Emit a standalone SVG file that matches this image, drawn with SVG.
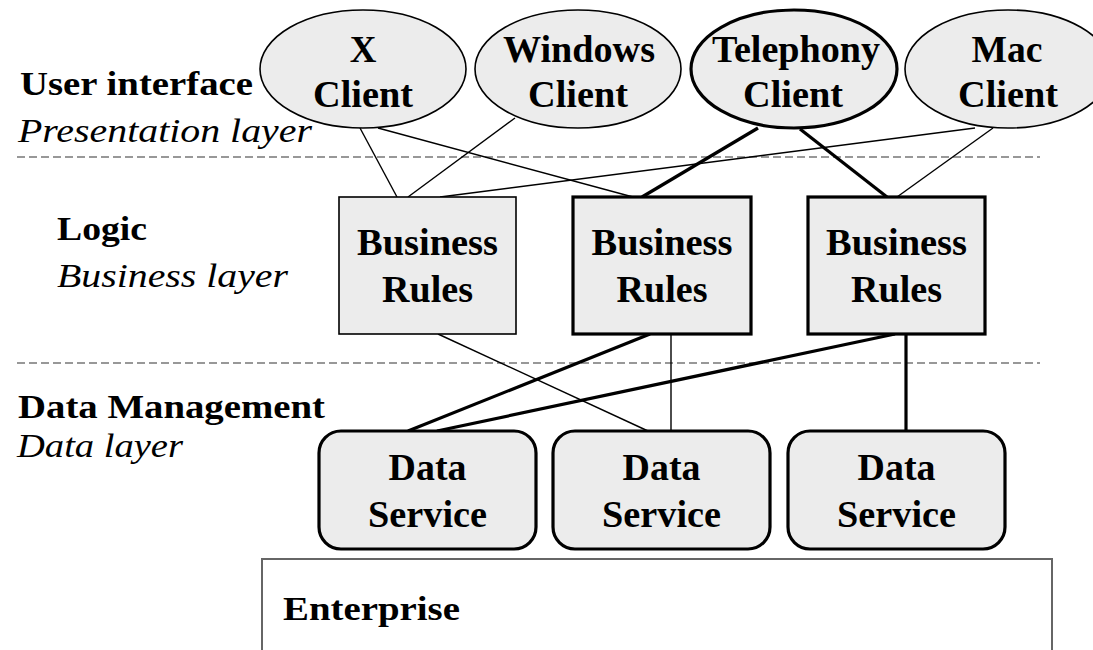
<svg xmlns="http://www.w3.org/2000/svg" width="1093" height="650" viewBox="0 0 1093 650">
  <style>
    .node { fill: #ececec; stroke: #000; stroke-width: 1.6; }
    .bold-node { fill: #ececec; stroke: #000; stroke-width: 3.2; }
    .thin { stroke: #000; stroke-width: 1.4; fill: none; }
    .thick { stroke: #000; stroke-width: 3.2; fill: none; }
    .divider { stroke: #777; stroke-width: 1.6; stroke-dasharray: 8 4; fill: none; }
  </style>
  <rect width="1093" height="650" fill="#fff"/>

  <!-- layer dividers -->
  <g id="dividers">
    <line class="divider" x1="17" y1="157" x2="1040" y2="157"/>
    <line class="divider" x1="17" y1="363" x2="1040" y2="363"/>
  </g>

  <!-- layer labels -->
  <g id="layer-labels">
    <text font-family="Liberation Serif" font-size="33" font-weight="bold" x="20" y="95" textLength="233" lengthAdjust="spacingAndGlyphs">User interface</text>
    <text font-family="Liberation Serif" font-size="33" font-style="italic" x="18" y="142" textLength="294" lengthAdjust="spacingAndGlyphs">Presentation layer</text>
    <text font-family="Liberation Serif" font-size="33" font-weight="bold" x="57" y="240" textLength="90" lengthAdjust="spacingAndGlyphs">Logic</text>
    <text font-family="Liberation Serif" font-size="33" font-style="italic" x="57" y="287" textLength="231" lengthAdjust="spacingAndGlyphs">Business layer</text>
    <text font-family="Liberation Serif" font-size="33" font-weight="bold" x="18" y="418" textLength="307" lengthAdjust="spacingAndGlyphs">Data Management</text>
    <text font-family="Liberation Serif" font-size="33" font-style="italic" x="17" y="457" textLength="166" lengthAdjust="spacingAndGlyphs">Data layer</text>
  </g>

  <!-- enterprise base -->
  <g id="enterprise">
    <rect x="262" y="559" width="790" height="110" fill="#fff" stroke="#666" stroke-width="2"/>
    <text font-family="Liberation Serif" font-size="33" font-weight="bold" x="283" y="620" textLength="177" lengthAdjust="spacingAndGlyphs">Enterprise</text>
  </g>

  <!-- connectors -->
  <g id="connectors">
    <line class="thin" x1="360" y1="128" x2="397" y2="197"/>
    <line class="thin" x1="515" y1="118" x2="408" y2="197"/>
    <line class="thin" x1="378" y1="128" x2="633" y2="197"/>
    <line class="thin" x1="975" y1="128" x2="440" y2="197"/>
    <line class="thin" x1="993" y1="128" x2="897" y2="197"/>
    <line class="thick" x1="758" y1="128" x2="642" y2="197"/>
    <line class="thick" x1="800" y1="129" x2="887" y2="197"/>
    <line class="thin" x1="438" y1="334" x2="648" y2="431"/>
    <line class="thick" x1="650" y1="334" x2="408" y2="431"/>
    <line class="thin" x1="671" y1="334" x2="671" y2="431"/>
    <line class="thick" x1="895" y1="334" x2="437" y2="431"/>
    <line class="thick" x1="906" y1="334" x2="906" y2="431" stroke-width="4"/>
  </g>

  <!-- presentation clients -->
  <g id="x-client">
    <ellipse class="node" cx="363" cy="69" rx="103" ry="59"/>
    <text font-family="Liberation Serif" font-size="37" font-weight="bold" text-anchor="middle" x="363" y="62">X</text>
    <text font-family="Liberation Serif" font-size="37" font-weight="bold" text-anchor="middle" x="363" y="107" textLength="100" lengthAdjust="spacingAndGlyphs">Client</text>
  </g>
  <g id="windows-client">
    <ellipse class="node" cx="578" cy="69" rx="103" ry="59"/>
    <text font-family="Liberation Serif" font-size="37" font-weight="bold" text-anchor="middle" x="579" y="62" textLength="152" lengthAdjust="spacingAndGlyphs">Windows</text>
    <text font-family="Liberation Serif" font-size="37" font-weight="bold" text-anchor="middle" x="578" y="107" textLength="100" lengthAdjust="spacingAndGlyphs">Client</text>
  </g>
  <g id="telephony-client">
    <ellipse class="bold-node" cx="794" cy="69" rx="103" ry="59"/>
    <text font-family="Liberation Serif" font-size="37" font-weight="bold" text-anchor="middle" x="796" y="62" textLength="168" lengthAdjust="spacingAndGlyphs">Telephony</text>
    <text font-family="Liberation Serif" font-size="37" font-weight="bold" text-anchor="middle" x="793" y="107" textLength="100" lengthAdjust="spacingAndGlyphs">Client</text>
  </g>
  <g id="mac-client">
    <ellipse class="node" cx="1008" cy="69" rx="103" ry="59"/>
    <text font-family="Liberation Serif" font-size="37" font-weight="bold" text-anchor="middle" x="1007" y="62" textLength="71" lengthAdjust="spacingAndGlyphs">Mac</text>
    <text font-family="Liberation Serif" font-size="37" font-weight="bold" text-anchor="middle" x="1008" y="107" textLength="100" lengthAdjust="spacingAndGlyphs">Client</text>
  </g>

  <!-- business logic -->
  <g id="rules-1">
    <rect class="node" x="339" y="197" width="177" height="137"/>
    <text font-family="Liberation Serif" font-size="37" font-weight="bold" text-anchor="middle" x="427.5" y="255" textLength="141" lengthAdjust="spacingAndGlyphs">Business</text>
    <text font-family="Liberation Serif" font-size="37" font-weight="bold" text-anchor="middle" x="427.5" y="302" textLength="91" lengthAdjust="spacingAndGlyphs">Rules</text>
  </g>
  <g id="rules-2">
    <rect class="bold-node" x="573" y="197" width="178" height="137"/>
    <text font-family="Liberation Serif" font-size="37" font-weight="bold" text-anchor="middle" x="662" y="255" textLength="141" lengthAdjust="spacingAndGlyphs">Business</text>
    <text font-family="Liberation Serif" font-size="37" font-weight="bold" text-anchor="middle" x="662" y="302" textLength="91" lengthAdjust="spacingAndGlyphs">Rules</text>
  </g>
  <g id="rules-3">
    <rect class="bold-node" x="808" y="197" width="177" height="137"/>
    <text font-family="Liberation Serif" font-size="37" font-weight="bold" text-anchor="middle" x="896.5" y="255" textLength="141" lengthAdjust="spacingAndGlyphs">Business</text>
    <text font-family="Liberation Serif" font-size="37" font-weight="bold" text-anchor="middle" x="896.5" y="302" textLength="91" lengthAdjust="spacingAndGlyphs">Rules</text>
  </g>

  <!-- data services -->
  <g id="data-1">
    <rect class="bold-node" x="319" y="431" width="217" height="118" rx="22" ry="22"/>
    <text font-family="Liberation Serif" font-size="37" font-weight="bold" text-anchor="middle" x="427.5" y="480" textLength="78" lengthAdjust="spacingAndGlyphs">Data</text>
    <text font-family="Liberation Serif" font-size="37" font-weight="bold" text-anchor="middle" x="427.5" y="527" textLength="119" lengthAdjust="spacingAndGlyphs">Service</text>
  </g>
  <g id="data-2">
    <rect class="bold-node" x="553" y="431" width="217" height="118" rx="22" ry="22"/>
    <text font-family="Liberation Serif" font-size="37" font-weight="bold" text-anchor="middle" x="661.5" y="480" textLength="78" lengthAdjust="spacingAndGlyphs">Data</text>
    <text font-family="Liberation Serif" font-size="37" font-weight="bold" text-anchor="middle" x="661.5" y="527" textLength="119" lengthAdjust="spacingAndGlyphs">Service</text>
  </g>
  <g id="data-3">
    <rect class="bold-node" x="788" y="431" width="217" height="118" rx="22" ry="22"/>
    <text font-family="Liberation Serif" font-size="37" font-weight="bold" text-anchor="middle" x="896.5" y="480" textLength="78" lengthAdjust="spacingAndGlyphs">Data</text>
    <text font-family="Liberation Serif" font-size="37" font-weight="bold" text-anchor="middle" x="896.5" y="527" textLength="119" lengthAdjust="spacingAndGlyphs">Service</text>
  </g>
</svg>
